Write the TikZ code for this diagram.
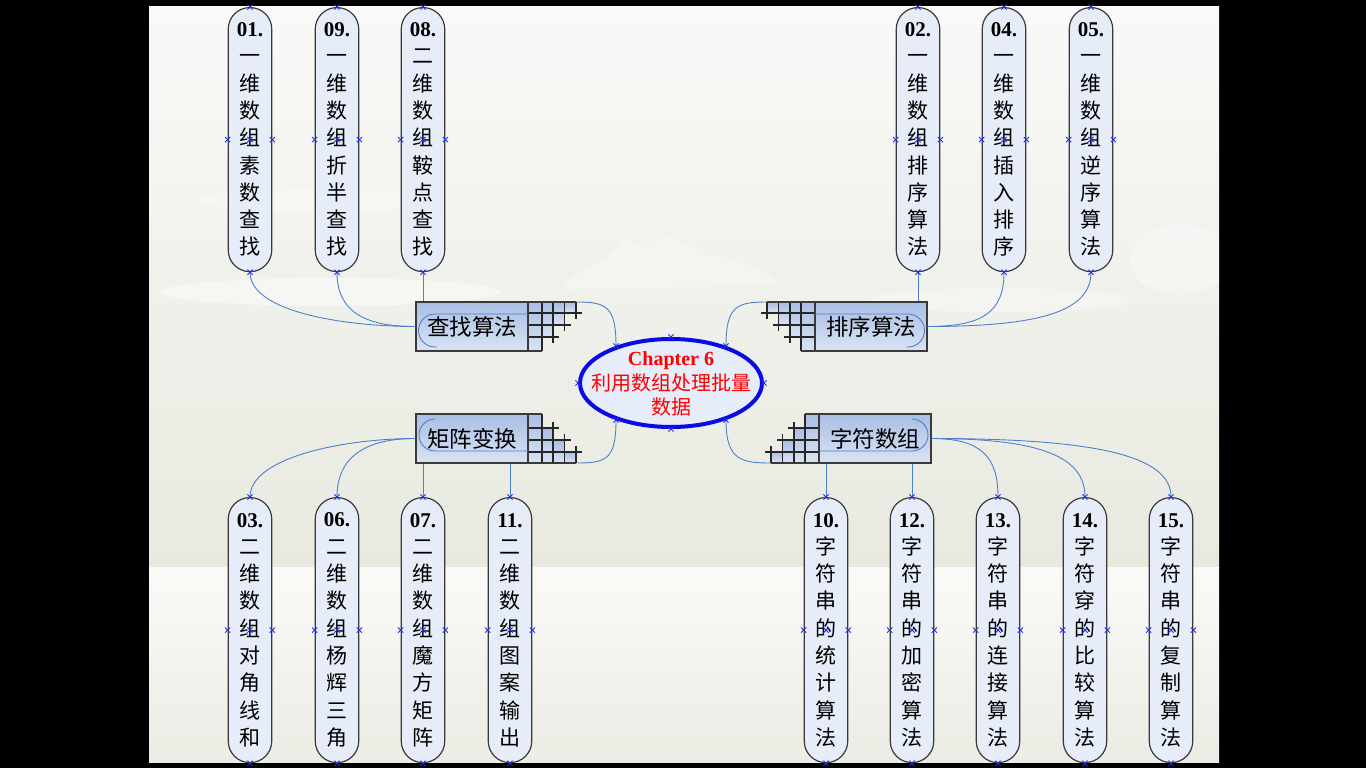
\documentclass[tikz,border=0pt]{standalone}
\usepackage{fontspec}
\setmainfont{Liberation Serif}
\newfontfamily\cjk{Noto Sans CJK SC}
\usetikzlibrary{shapes.geometric,calc}
\definecolor{pillfill}{HTML}{E6ECF8}
\definecolor{pillline}{HTML}{3A3A3A}
\definecolor{connc}{HTML}{4E7FCC}
\definecolor{boxtop}{HTML}{A9BEE4}
\definecolor{boxbot}{HTML}{DAE3F3}
\definecolor{mkc}{HTML}{1F2FE0}
\definecolor{bgA}{HTML}{F9F9F8}
\definecolor{bgB}{HTML}{E8E9DF}
\definecolor{bgC}{HTML}{FAFAF8}
\definecolor{bgD}{HTML}{EBECE4}
\definecolor{ellblue}{HTML}{0A0AE6}
\tikzset{
  pill/.style={draw=pillline, line width=1.2, fill=pillfill, rounded corners=21.5,
    minimum width=43.5, minimum height=264, inner sep=0, align=center,
    font=\cjk\fontsize{21}{27.3}\selectfont, anchor=north},
  pillb/.style={pill, minimum height=265},
  connline/.style={draw=connc, line width=0.9},
  topicbox/.style={draw=pillline, line width=1.2, top color=boxtop, bottom color=boxbot,
    minimum width=112, minimum height=49, inner sep=0, font=\cjk\fontsize{22.5}{24}\selectfont},
  cellshade/.style={top color=boxtop, bottom color=boxbot},
  gridline/.style={draw=black!85, line width=1.7},
  boxedge/.style={draw=pillline, line width=1.2},
  inner/.style={draw=connc, line width=0.9},
  mks/.style={draw=mkc, line width=0.9},
}
\newcommand\num[1]{{\rmfamily\bfseries #1}}
\newcommand\tgrid[3]{%
  \begin{scope}[shift={#1}, xscale=#2, yscale=#3]
    \shade[cellshade] (0,0) rectangle (13.7,49);
    \shade[cellshade] (13.7,0) rectangle (25,35);
    \shade[cellshade] (25,0) rectangle (36.5,23);
    \shade[cellshade] (36.5,0) rectangle (48,11);
    \draw[gridline] (0,11) -- (54,11) (0,23) -- (42.5,23) (0,35) -- (31,35)
      (13.7,0) -- (13.7,49) (25,0) -- (25,41) (36.5,0) -- (36.5,29) (48,0) -- (48,17);
    \draw[boxedge] (0,0) -- (48,0) (0,49) -- (13.7,49) (0,0) -- (0,49);
  \end{scope}}
\newcommand\mk[1]{\draw[mks] #1 ++(-2.6,-2.6) -- ++(5.2,5.2) ++(-5.2,0) -- ++(5.2,-5.2);}
\newcommand\pillmk[1]{\mk{(#1.north)}\mk{(#1.south)}\mk{(#1.west)}\mk{(#1.east)}\mk{(#1.center)}}
\begin{document}
\begin{tikzpicture}[x=1pt,y=-1pt]
\useasboundingbox (0,0) rectangle (1366,768);
\fill[black] (0,0) rectangle (1366,768);
% slide background
\shade[top color=bgA, bottom color=bgB] (149,7) rectangle (1219,567);
\shade[top color=bgC, bottom color=bgD] (149,567) rectangle (1219,762);
% faint clouds
\begin{scope}
\clip (149,7) rectangle (1219,567);
\fill[white, opacity=0.4] (330,292) ellipse[x radius=170, y radius=14];
\fill[white, opacity=0.25] (600,262) .. controls (615,250) .. (625,240) .. controls (640,246) .. (650,250) .. controls (660,240) .. (672,236) .. controls (690,248) .. (700,255) .. controls (720,256) .. (740,262) .. controls (765,272) .. (780,285) -- (560,290) .. controls (575,275) .. cycle;
\fill[white, opacity=0.3] (1180,260) ellipse[x radius=50, y radius=35];
\fill[white, opacity=0.3] (1000,300) ellipse[x radius=130, y radius=12];
\fill[white, opacity=0.25] (320,200) ellipse[x radius=120, y radius=12];
\end{scope}

% ellipse attachment coordinates
\coordinate (c-nw) at (616,346);
\coordinate (c-ne) at (726,346);
\coordinate (c-sw) at (616,420);
\coordinate (c-se) at (726,420);
\coordinate (find-g) at (576,302);
\coordinate (mat-g) at (576,463);
\coordinate (sort-g) at (767,302);
\coordinate (str-g) at (771,463);

% topic boxes (text areas)
\node[topicbox] (find) at (472,326.5) {查找算法};
\node[topicbox] (mat) at (472,438.5) {矩阵变换};
\node[topicbox] (sort) at (871,326.5) {排序算法};
\node[topicbox] (str) at (875,438.5) {字符数组};

% pills top
\node[pill] (p01) at (250,7) {\num{01.}\\一\\维\\数\\组\\素\\数\\查\\找};
\node[pill] (p09) at (337,7) {\num{09.}\\一\\维\\数\\组\\折\\半\\查\\找};
\node[pill] (p08) at (423,7) {\num{08.}\\二\\维\\数\\组\\鞍\\点\\查\\找};
\node[pill] (p02) at (918,7) {\num{02.}\\一\\维\\数\\组\\排\\序\\算\\法};
\node[pill] (p04) at (1004,7) {\num{04.}\\一\\维\\数\\组\\插\\入\\排\\序};
\node[pill] (p05) at (1091,7) {\num{05.}\\一\\维\\数\\组\\逆\\序\\算\\法};
% pills bottom
\node[pillb] (p03) at (250,497) {\num{03.}\\二\\维\\数\\组\\对\\角\\线\\和};
\node[pillb] (p06) at (337,497) {\num{06.}\\二\\维\\数\\组\\杨\\辉\\三\\角};
\node[pillb] (p07) at (423,497) {\num{07.}\\二\\维\\数\\组\\魔\\方\\矩\\阵};
\node[pillb] (p11) at (510,497) {\num{11.}\\二\\维\\数\\组\\图\\案\\输\\出};
\node[pillb] (p10) at (826,497) {\num{10.}\\字\\符\\串\\的\\统\\计\\算\\法};
\node[pillb] (p12) at (912,497) {\num{12.}\\字\\符\\串\\的\\加\\密\\算\\法};
\node[pillb] (p13) at (998,497) {\num{13.}\\字\\符\\串\\的\\连\\接\\算\\法};
\node[pillb] (p14) at (1085,497) {\num{14.}\\字\\符\\穿\\的\\比\\较\\算\\法};
\node[pillb] (p15) at (1171,497) {\num{15.}\\字\\符\\串\\的\\复\\制\\算\\法};

% connectors topic -> pills
\draw[connline] (find.west) .. controls +(-70,0) and +(0,40) .. (p01.south);
\draw[connline] (find.west) .. controls +(-50,0) and +(0,40) .. (p09.south);
\draw[connline] (p08.south) -- (p08.south |- find.north);
\draw[connline] (p02.south) -- (p02.south |- sort.north);
\draw[connline] (sort.east) .. controls +(55,0) and +(0,40) .. (p04.south);
\draw[connline] (sort.east) .. controls +(110,0) and +(0,40) .. (p05.south);
\draw[connline] (mat.west) .. controls +(-70,0) and +(0,-40) .. (p03.north);
\draw[connline] (mat.west) .. controls +(-50,0) and +(0,-40) .. (p06.north);
\draw[connline] (p07.north) -- (p07.north |- mat.south);
\draw[connline] (p11.north) -- (p11.north |- mat.south);
\draw[connline] (p10.north) -- (p10.north |- str.south);
\draw[connline] (p12.north) -- (p12.north |- str.south);
\draw[connline] (str.east) .. controls +(50,0) and +(0,-40) .. (p13.north);
\draw[connline] (str.east) .. controls +(110,0) and +(0,-40) .. (p14.north);
\draw[connline] (str.east) .. controls +(170,0) and +(0,-40) .. (p15.north);

% connectors ellipse -> topics
\draw[connline] (c-nw) .. controls +(0,-40) and +(30,0) .. (find-g);
\draw[connline] (c-sw) .. controls +(0,40) and +(30,0) .. (mat-g);
\draw[connline] (c-ne) .. controls +(0,-40) and +(-30,0) .. (sort-g);
\draw[connline] (c-se) .. controls +(0,40) and +(-30,0) .. (str-g);

% grids
\tgrid{(528,302)}{1}{1}
\tgrid{(528,463)}{1}{-1}
\tgrid{(815,302)}{-1}{1}
\tgrid{(819,463)}{-1}{-1}

% inner outlines
\draw[inner] (528,314) -- (435,314) arc[start angle=270, end angle=90, radius=16.5] -- ++(2,0);
\draw[inner] (435,419) arc[start angle=270, end angle=90, radius=16] -- (528,451);
\draw[inner] (815,314) -- (908,314) arc[start angle=-90, end angle=90, radius=16.5] -- ++(-2,0);
\draw[inner] (912,419) arc[start angle=-90, end angle=90, radius=16] -- (819,451);

% central ellipse
\node[ellipse, draw=ellblue, line width=4, fill=pillfill, minimum width=182, minimum height=88,
  inner sep=0] (c) at (671,383) {};
\node[align=center, text=red, inner sep=0, font=\fontsize{20}{24.5}\selectfont] (ctext) at (671,384)
  {\textbf{Chapter 6}\\{\cjk 利用数组处理批量}\\{\cjk 数据}};

% selection markers
\foreach \p in {p01,p09,p08,p02,p04,p05,p03,p06,p07,p11,p10,p12,p13,p14,p15}{\pillmk{\p}}
\mk{(c-nw)}\mk{(c-ne)}\mk{(c-sw)}\mk{(c-se)}
\mk{(c.north)}\mk{(c.south)}\mk{(c.west)}\mk{(c.east)}
\end{tikzpicture}
\end{document}
